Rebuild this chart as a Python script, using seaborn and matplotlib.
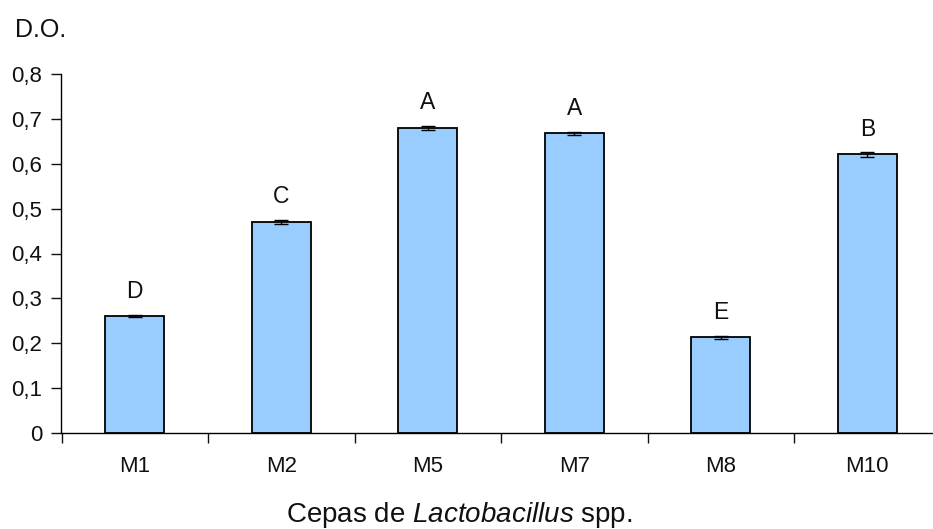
import matplotlib
matplotlib.use("Agg")
import matplotlib.pyplot as plt
import seaborn as sns
import pandas as pd

# ── Data ─────────────────────────────────────────────────────────────────────
strains = ["M1", "M2", "M5", "M7", "M8", "M10"]
od_mean = [0.26, 0.47, 0.68, 0.668, 0.213, 0.621]
od_err = [0.002, 0.005, 0.005, 0.003, 0.004, 0.006]
letters = ["D", "C", "A", "A", "E", "B"]
y_ticks = [0, 0.1, 0.2, 0.3, 0.4, 0.5, 0.6, 0.7, 0.8]

BAR = "#99CCFF"
INK = "#111111"

sns.set_theme(style="white")
plt.rcParams.update({
    "font.family": ["Liberation Sans", "DejaVu Sans"],
    "mathtext.fontset": "custom",
    "mathtext.rm": "Liberation Sans",
    "mathtext.it": "Liberation Sans:italic",
    "text.color": INK,
    "xtick.color": INK,
    "ytick.color": INK,
})

df = pd.DataFrame({"Cepa": strains, "DO": od_mean})

fig = plt.figure(figsize=(9.33, 5.29), dpi=100)
ax = fig.add_axes([61.5 / 933, 1 - 433 / 529, 879 / 933, (433 - 74) / 529])

sns.barplot(data=df, x="Cepa", y="DO", color=BAR, saturation=1, width=0.4,
            edgecolor="black", linewidth=1.3, errorbar=None, ax=ax)
ax.errorbar(range(len(strains)), od_mean, yerr=od_err, fmt="none",
            ecolor="black", elinewidth=1, capsize=5, capthick=1)

for i, (v, lab) in enumerate(zip(od_mean, letters)):
    ax.text(i, v + 0.056, lab, ha="center", va="center", fontsize=16.5)

# axes styling (Excel look)
ax.set_xlim(-0.5, len(strains) - 0.5)
ax.set_ylim(0, 0.8)
ax.set_yticks(y_ticks)
ax.set_yticklabels(["0" if t == 0 else f"{t:.1f}".replace(".", ",") for t in y_ticks])
ax.set_xticks([i - 0.5 for i in range(len(strains) + 1)])
ax.set_xticklabels([])
ax.set_xticks(range(len(strains)), minor=True)
ax.set_xticklabels(strains, minor=True)
ax.tick_params(axis="x", which="major", direction="out", length=7, width=1, bottom=True)
ax.tick_params(axis="x", which="minor", length=0, pad=16.5, labelsize=16)
ax.tick_params(axis="y", direction="out", length=7, width=1, left=True, labelsize=16, pad=7)
ax.set_xlabel("")
ax.set_ylabel("")
for s in ["top", "right"]:
    ax.spines[s].set_visible(False)
for s in ["left", "bottom"]:
    ax.spines[s].set_color("black")
    ax.spines[s].set_linewidth(1)

fig.text(15 / 933, 1 - 30 / 529, "D.O.", ha="left", va="center", fontsize=18)
fig.text(459 / 933, 1 - 515 / 529, "Cepas de $\\it{Lactobacillus}$ spp.",
         ha="center", va="center", fontsize=20)

fig.savefig("out.png", dpi=100, facecolor="white")
